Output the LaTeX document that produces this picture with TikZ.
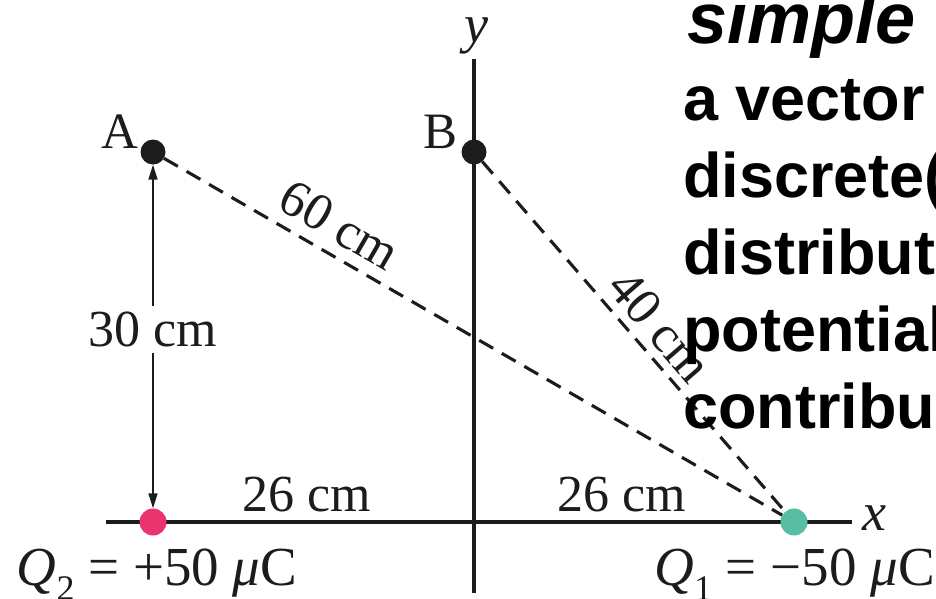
\documentclass[tikz,border=0pt]{standalone}
\usepackage{fontspec}
\setmainfont{Liberation Serif}
\newfontfamily\slidefont{Liberation Sans}
\usetikzlibrary{arrows.meta,positioning,calc}
\definecolor{chgpink}{RGB}{233,52,110}
\definecolor{chgteal}{RGB}{88,190,162}
\definecolor{inkdark}{RGB}{28,28,28}
\tikzset{
  axisline/.style={line width=3.4pt, inkdark},
  distline/.style={line width=3.1pt, inkdark, dash pattern=on 16pt off 10pt},
  dimarrow/.style={{Triangle[length=15pt,width=9pt]}-{Triangle[length=15pt,width=9pt]},
    line width=1.6pt, inkdark},
  ptdot/.style={circle, fill=inkdark, minimum size=25pt, inner sep=0pt},
  chargedot/.style={circle, minimum size=27pt, inner sep=0pt},
  lbl/.style={font=\fontsize{52}{60}\selectfont, inner sep=2pt, text=inkdark},
  qlbl/.style={font=\fontsize{55}{60}\selectfont, inner sep=0pt, text=inkdark},
  axlbl/.style={font=\itshape\fontsize{54}{60}\selectfont, inner sep=0pt, text=inkdark},
  ptlbl/.style={font=\fontsize{51}{56}\selectfont, inner sep=0pt, text=inkdark},
  slideline/.style={font=\slidefont\bfseries\fontsize{63}{77}\selectfont,
    anchor=base west, inner sep=0pt}
}
\newcommand{\qsub}[1]{\raisebox{-0.28em}{\fontsize{36}{36}\selectfont #1}}

\begin{document}
\begin{tikzpicture}[x=1pt,y=-1pt]
  \useasboundingbox (0,0) rectangle (936,598);
  % axes
  \coordinate (xl) at (106,522);
  \coordinate (xr) at (852,522);
  \coordinate (yt) at (474,59);
  \coordinate (yb) at (474,593);
  \draw[axisline] (xl) -- (xr);
  \draw[axisline] (yt) -- (yb);
  \node[axlbl, anchor=base west] (xlab) at (862,530) {x};
  \node[axlbl, anchor=base] (ylab) at (476,42) {y};

  % points and charges
  \node[ptdot] (A) at (153,152) {};
  \node[ptdot] (B) at (474,152) {};
  \node[chargedot, fill=chgpink] (q2) at (153,522) {};
  \node[chargedot, fill=chgteal] (q1) at (794,522) {};
  \node[ptlbl, anchor=base] (Alab) at (120,148) {A};
  \node[ptlbl, anchor=base] (Blab) at (441,148) {B};

  % distances
  \draw[distline] (A) -- (q1) node[lbl, sloped, above=9pt, pos=0.26] (d60) {60 cm};
  \draw[distline] (B) -- (q1) node[lbl, sloped, above=6pt, pos=0.52] (d40) {40 cm};
  \draw[dimarrow] (A) -- (q2) node[lbl, fill=white, inner sep=6pt, pos=0.48] (d30) {30 cm};
  \node[lbl, anchor=base] (d26l) at (307,511) {26 cm};
  \node[lbl, anchor=base] (d26r) at (622,511) {26 cm};

  % charge values
  \node[qlbl, anchor=base] (q2lab) at (157,585) {\textit{Q}\qsub{2} = +50 \textit{μ}C};
  \node[qlbl, anchor=base east] (q1lab) at (935,585) {\textit{Q}\qsub{1} = −50 \textit{μ}C};

  % slide text (runs off the right edge)
  \node[slideline, font=\slidefont\bfseries\itshape\fontsize{72}{80}\selectfont] (s1) at (687,43) {simple};
  \node[slideline] (s2) at (683,120) {a vector};
  \node[slideline] (s3) at (683,197) {discrete(};
  \node[slideline] (s4) at (683,274) {distribut};
  \node[slideline] (s5) at (683,351) {potential};
  \node[slideline] (s6) at (683,428) {contribu};
\end{tikzpicture}
\end{document}
